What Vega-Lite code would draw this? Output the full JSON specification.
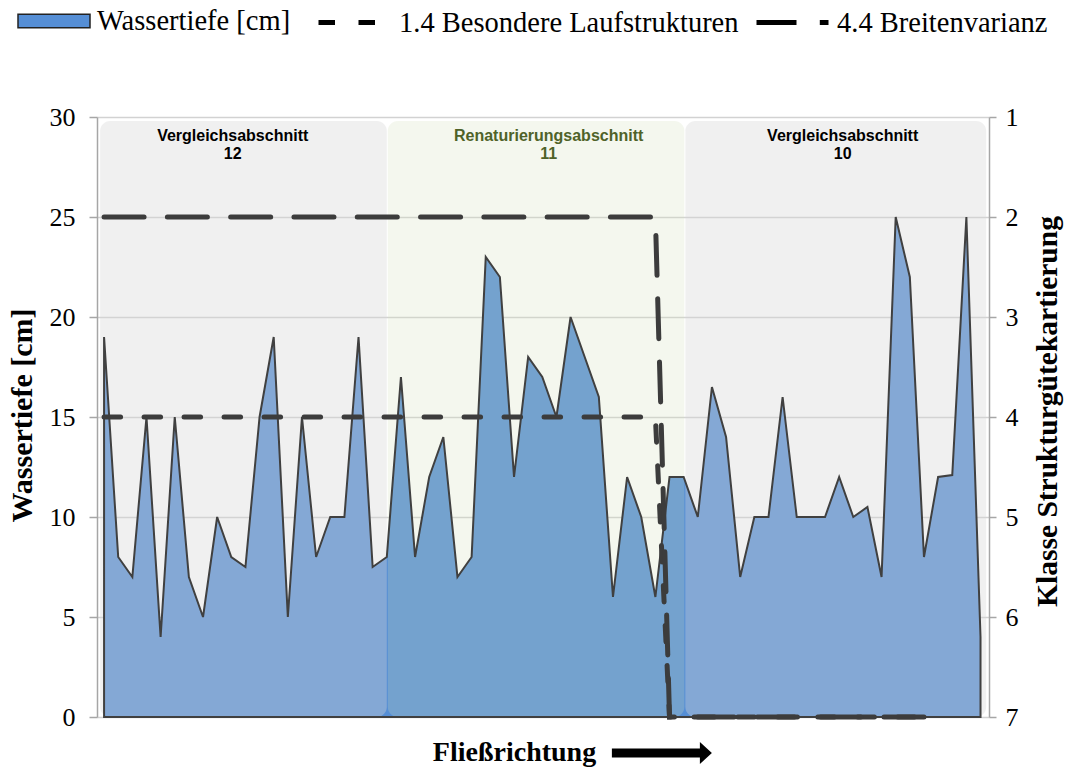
{
  "$schema": "https://vega.github.io/schema/vega-lite/v6.json",
  "width": 892,
  "height": 600,
  "autosize": {"type": "none"},
  "padding": {"left": 97, "top": 117, "right": 80, "bottom": 50},
  "background": "white",
  "config": {"view": {"stroke": null}, "font": "Liberation Serif"},
  "datasets": {
    "depth": [
      {"i": 1, "d": 19}, {"i": 2, "d": 8}, {"i": 3, "d": 7}, {"i": 4, "d": 15}, {"i": 5, "d": 4},
      {"i": 6, "d": 15}, {"i": 7, "d": 7}, {"i": 8, "d": 5}, {"i": 9, "d": 10}, {"i": 10, "d": 8},
      {"i": 11, "d": 7.5}, {"i": 12, "d": 15}, {"i": 13, "d": 19}, {"i": 14, "d": 5}, {"i": 15, "d": 15},
      {"i": 16, "d": 8}, {"i": 17, "d": 10}, {"i": 18, "d": 10}, {"i": 19, "d": 19}, {"i": 20, "d": 7.5},
      {"i": 21, "d": 8}, {"i": 22, "d": 17}, {"i": 23, "d": 8}, {"i": 24, "d": 12}, {"i": 25, "d": 14},
      {"i": 26, "d": 7}, {"i": 27, "d": 8}, {"i": 28, "d": 23}, {"i": 29, "d": 22}, {"i": 30, "d": 12},
      {"i": 31, "d": 18}, {"i": 32, "d": 17}, {"i": 33, "d": 15}, {"i": 34, "d": 20}, {"i": 35, "d": 18},
      {"i": 36, "d": 16}, {"i": 37, "d": 6}, {"i": 38, "d": 12}, {"i": 39, "d": 10}, {"i": 40, "d": 6},
      {"i": 41, "d": 12}, {"i": 42, "d": 12}, {"i": 43, "d": 10}, {"i": 44, "d": 16.5}, {"i": 45, "d": 14},
      {"i": 46, "d": 7}, {"i": 47, "d": 10}, {"i": 48, "d": 10}, {"i": 49, "d": 16}, {"i": 50, "d": 10},
      {"i": 51, "d": 10}, {"i": 52, "d": 10}, {"i": 53, "d": 12}, {"i": 54, "d": 10}, {"i": 55, "d": 10.5},
      {"i": 56, "d": 7}, {"i": 57, "d": 25}, {"i": 58, "d": 22}, {"i": 59, "d": 8}, {"i": 60, "d": 12},
      {"i": 61, "d": 12.1}, {"i": 62, "d": 25}, {"i": 63, "d": 4}
    ],
    "sections": [
      {"sec": "Vergleichsabschnitt\n12", "kind": "Vergleich", "x1": 0.72, "x2": 21.0, "xc": 10.1},
      {"sec": "Renaturierungsabschnitt\n11", "kind": "Renaturierung", "x1": 21.07, "x2": 42.05, "xc": 32.45},
      {"sec": "Vergleichsabschnitt\n10", "kind": "Vergleich", "x1": 42.12, "x2": 63.4, "xc": 53.25}
    ],
    "classes": [
      {"series": "1.4 Besondere Laufstrukturen", "i": 1, "k": 4},
      {"series": "1.4 Besondere Laufstrukturen", "i": 40, "k": 4},
      {"series": "1.4 Besondere Laufstrukturen", "i": 41, "k": 7},
      {"series": "1.4 Besondere Laufstrukturen", "i": 59, "k": 7},
      {"series": "4.4 Breitenvarianz", "i": 1, "k": 2},
      {"series": "4.4 Breitenvarianz", "i": 40, "k": 2},
      {"series": "4.4 Breitenvarianz", "i": 41, "k": 7},
      {"series": "4.4 Breitenvarianz", "i": 59, "k": 7}
    ]
  },
  "layer": [
    {
      "layer": [
        {
          "data": {"name": "depth"},
          "mark": {"type": "area", "interpolate": "linear"},
          "encoding": {
            "x": {
              "field": "i", "type": "quantitative", "scale": {"domain": [0.5, 63.6]},
              "axis": {
                "orient": "bottom", "domain": false, "ticks": false, "labels": false, "grid": false,
                "title": "Fließrichtung", "titleFont": "Liberation Serif", "titleFontSize": 28,
                "titleFontWeight": "bold", "titleColor": "#000000", "titleX": 417, "titleY": 35,
                "titleBaseline": "middle", "titleAlign": "center"
              }
            },
            "y": {
              "field": "d", "type": "quantitative", "scale": {"domain": [0, 30]},
              "axis": {
                "orient": "left", "values": [0, 5, 10, 15, 20, 25, 30], "grid": true,
                "gridColor": "#D2D2D2", "gridWidth": 1.5, "domainColor": "#A6A6A6", "domainWidth": 1.5,
                "tickColor": "#A6A6A6", "tickWidth": 1.5, "tickSize": 8, "labelFont": "Liberation Serif",
                "labelFontSize": 26, "labelColor": "#000000", "labelPadding": 14, "labelFlush": false,
                "labelOverlap": false, "title": "Wassertiefe [cm]", "titleFont": "Liberation Serif",
                "titleFontSize": 30, "titleFontWeight": "bold", "titleColor": "#000000", "titleX": -75,
                "titleY": 298, "titleAngle": 270, "titleBaseline": "middle", "titleAlign": "center"
              }
            },
            "fill": {
              "datum": "Wassertiefe [cm]", "type": "nominal", "scale": {"range": ["#558ED5"]},
              "legend": {
                "orient": "none", "legendX": -80, "legendY": -133, "title": null, "padding": 0,
                "symbolType": "M-1,-0.19H1V0.19H-1Z", "symbolSize": 5184,
                "symbolStrokeColor": "#222222", "symbolStrokeWidth": 1.5,
                "labelFont": "Liberation Serif", "labelFontSize": 28.5, "labelColor": "#000000", "labelOffset": 6,
                "labelLimit": 0
              }
            }
          }
        },
        {
          "data": {"name": "sections"},
          "transform": [{"filter": "datum.kind === 'Vergleich'"}],
          "mark": {"type": "rect", "cornerRadius": 10, "fill": "#D6D6D6", "opacity": 0.37},
          "encoding": {
            "x": {"field": "x1", "type": "quantitative", "scale": {"domain": [0.5, 63.6]}},
            "x2": {"field": "x2"},
            "y": {"datum": 0, "type": "quantitative", "scale": {"domain": [0, 30]}},
            "y2": {"datum": 29.8}
          }
        },
        {
          "data": {"name": "sections"},
          "transform": [{"filter": "datum.kind === 'Renaturierung'"}],
          "mark": {"type": "rect", "cornerRadius": 10, "fill": "#D3DFBB", "opacity": 0.25},
          "encoding": {
            "x": {"field": "x1", "type": "quantitative", "scale": {"domain": [0.5, 63.6]}},
            "x2": {"field": "x2"},
            "y": {"datum": 0, "type": "quantitative", "scale": {"domain": [0, 30]}},
            "y2": {"datum": 29.8}
          }
        },
        {
          "data": {"name": "depth"},
          "mark": {"type": "area", "interpolate": "linear", "fillOpacity": 0, "stroke": "#404040", "strokeWidth": 2},
          "encoding": {
            "x": {"field": "i", "type": "quantitative", "scale": {"domain": [0.5, 63.6]}},
            "y": {"field": "d", "type": "quantitative", "scale": {"domain": [0, 30]}}
          }
        },
        {
          "data": {"name": "sections"},
          "mark": {"type": "text", "font": "Liberation Sans", "fontWeight": "bold", "fontSize": 16, "lineBreak": "\n", "lineHeight": 18, "baseline": "top", "align": "center"},
          "encoding": {
            "x": {"field": "xc", "type": "quantitative", "scale": {"domain": [0.5, 63.6]}},
            "y": {"datum": 29.45, "type": "quantitative", "scale": {"domain": [0, 30]}},
            "text": {"field": "sec"},
            "color": {"field": "kind", "type": "nominal", "scale": {"domain": ["Vergleich", "Renaturierung"], "range": ["#000000", "#4F6228"]}, "legend": null}
          }
        },
        {
          "data": {"values": [{}]},
          "mark": {"type": "point", "shape": "M-1,-0.09L0.76,-0.09L0.76,-0.22L1,0L0.76,0.22L0.76,0.09L-1,0.09Z", "size": 10000, "filled": true, "color": "#000000", "opacity": 1},
          "encoding": {
            "x": {"datum": 40.46, "type": "quantitative", "scale": {"domain": [0.5, 63.6]}},
            "y": {"datum": -1.8, "type": "quantitative", "scale": {"domain": [0, 30]}}
          }
        }
      ]
    },
    {
      "data": {"name": "classes"},
      "mark": {"type": "line", "strokeWidth": 5, "strokeCap": "round", "color": "#3C3C3C"},
      "encoding": {
        "x": {"field": "i", "type": "quantitative", "scale": {"domain": [0.5, 63.6]}},
        "y": {
          "field": "k", "type": "quantitative", "scale": {"domain": [1, 7], "reverse": true},
          "axis": {
            "orient": "right", "values": [1, 2, 3, 4, 5, 6, 7], "grid": false, "format": "d",
            "domainColor": "#A6A6A6", "domainWidth": 1.5, "tickColor": "#A6A6A6", "tickWidth": 1.5,
            "tickSize": 7, "labelFont": "Liberation Serif", "labelFontSize": 26, "labelColor": "#000000",
            "labelPadding": 9, "labelFlush": false, "labelOverlap": false,
            "title": "Klasse Strukturgütekartierung", "titleFont": "Liberation Serif", "titleFontSize": 29.5,
            "titleFontWeight": "bold", "titleColor": "#000000", "titleX": 58, "titleY": 294,
            "titleAngle": 270, "titleBaseline": "middle", "titleAlign": "center"
          }
        },
        "strokeDash": {
          "field": "series", "type": "nominal",
          "scale": {"domain": ["1.4 Besondere Laufstrukturen", "4.4 Breitenvarianz"], "range": [[16.5, 23.5], [40, 23.3]]},
          "legend": {
            "orient": "none", "legendX": 219, "legendY": -133, "direction": "horizontal", "title": null,
            "padding": 0, "symbolType": "stroke", "symbolSize": 5184, "symbolStrokeWidth": 5,
            "symbolStrokeColor": "#000000", "labelFont": "Liberation Serif", "labelFontSize": 28.5,
            "labelColor": "#000000", "labelOffset": 6, "columnPadding": 7, "labelLimit": 0
          }
        }
      }
    }
  ],
  "resolve": {"scale": {"y": "independent"}}
}
